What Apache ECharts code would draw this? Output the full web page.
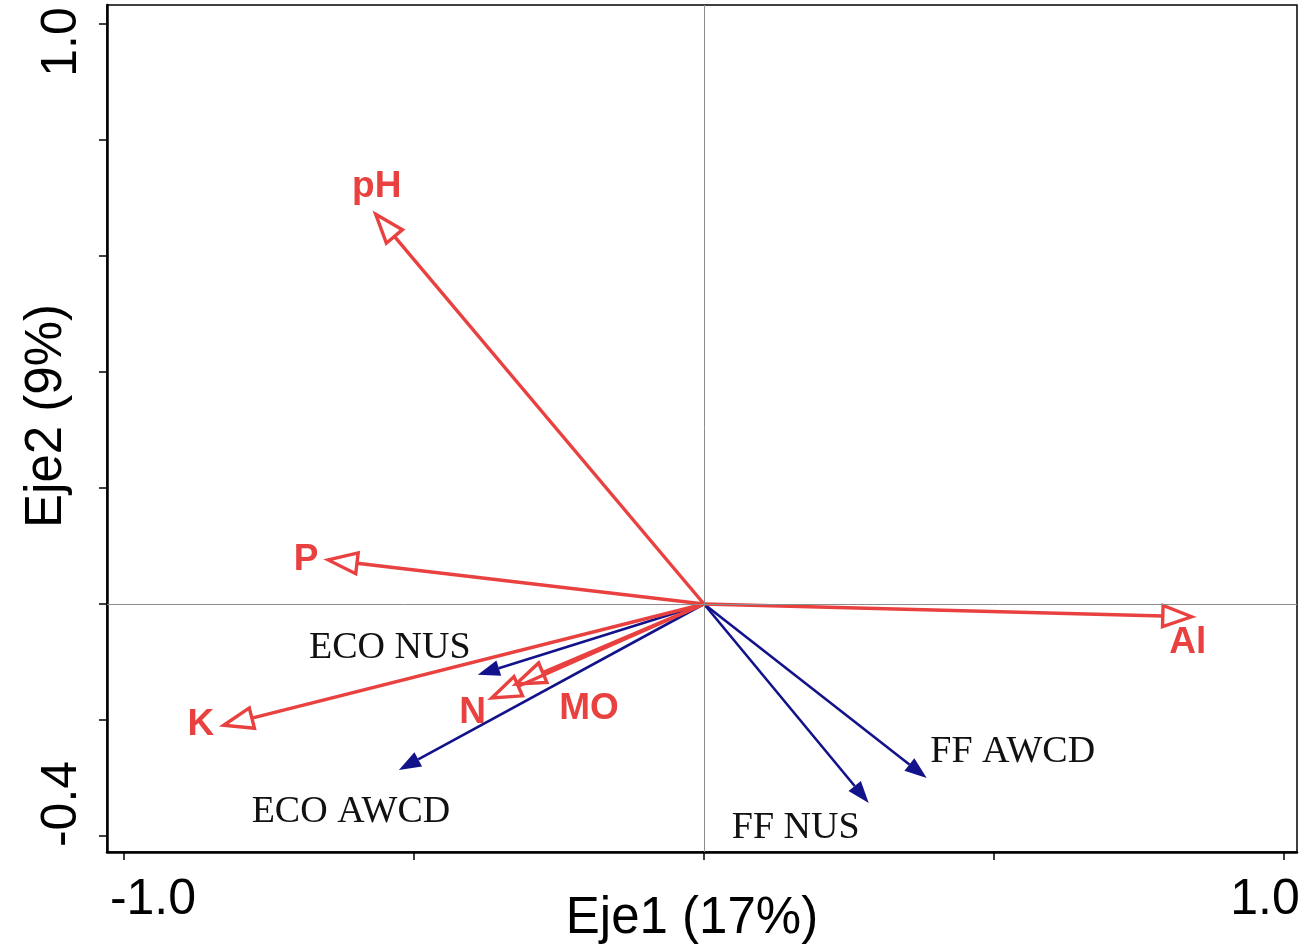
<!DOCTYPE html>
<html>
<head>
<meta charset="utf-8">
<script src="https://cdn.jsdelivr.net/npm/echarts@6/dist/echarts.min.js"></script>
<style>html,body{margin:0;padding:0;background:#fff}#c{width:1303px;height:949px}</style>
</head>
<body>
<div id="c"></div>
<script>
// ---- data ----
const soilNames = ['pH', 'P', 'Al', 'K', 'N', 'MO'];
const soilX = [-0.566, -0.648, 0.841, -0.828, -0.366, -0.324];
const soilY = [0.672, 0.076, -0.022, -0.209, -0.162, -0.138];

const bioNames = ['ECO NUS', 'ECO AWCD', 'FF NUS', 'FF AWCD'];
const bioX = [-0.390, -0.526, 0.284, 0.384];
const bioY = [-0.122, -0.286, -0.343, -0.300];

const xTickValues = [-1, -0.5, 0, 0.5, 1];
const yTickValues = [-0.4, -0.2, 0, 0.2, 0.4, 0.6, 0.8, 1.0];
const xLabelValues = [-1, 1];
const xLabelTexts = ['-1.0', '1.0'];
const yLabelValues = [-0.4, 1.0];
const yLabelTexts = ['-0.4', '1.0'];
const xTitle = 'Eje1 (17%)';
const yTitle = 'Eje2 (9%)';

// ---- style (pixel offsets of labels from arrow tips) ----
const soilLabelOffset = {pH:[1,-27], P:[-22,0], Al:[-4,26], K:[-23,0], N:[-19,15], MO:[73,25]};
const bioLabelOffset = {'ECO NUS':[-88,-27], 'ECO AWCD':[-48,42], 'FF NUS':[-73,25], 'FF AWCD':[86,-26]};
const RED = '#e8413f', BLUE = '#12128a';

function arrowRender(color, lw, hollow, headLen, headW, offsets, font, textColor) {
  return function (params, api) {
    const o = api.coord([0, 0]);
    const p = api.coord([api.value(0), api.value(1)]);
    const name = api.value(2);
    const dx = p[0] - o[0], dy = p[1] - o[1];
    const L = Math.hypot(dx, dy), ux = dx / L, uy = dy / L;
    const b = [p[0] - ux * headLen, p[1] - uy * headLen];
    const l = [b[0] - uy * headW / 2, b[1] + ux * headW / 2];
    const r = [b[0] + uy * headW / 2, b[1] - ux * headW / 2];
    const off = offsets[name] || [0, 0];
    return {
      type: 'group',
      children: [
        {type: 'line', shape: {x1: o[0], y1: o[1], x2: b[0], y2: b[1]}, style: {stroke: color, lineWidth: lw}},
        {type: 'polygon', shape: {points: [p, l, r]},
          style: hollow ? {fill: 'none', stroke: color, lineWidth: lw, lineJoin: 'miter'} : {fill: color}},
        {type: 'text', x: p[0] + off[0], y: p[1] + off[1],
          style: {text: name, font: font, fill: textColor, align: 'center', verticalAlign: 'middle'}}
      ]
    };
  };
}

const chart = echarts.init(document.getElementById('c'), null, {renderer: 'canvas'});
const soilData = soilNames.map((n, i) => [soilX[i], soilY[i], n]);
const bioData = bioNames.map((n, i) => [bioX[i], bioY[i], n]);

chart.setOption({
  backgroundColor: '#fff',
  animation: false,
  grid: {left: 107, right: 6, top: 5, bottom: 97, show: true, borderColor: '#000', borderWidth: 1.5, backgroundColor: '#fff'},
  xAxis: {
    type: 'value', min: -1.0293, max: 1.0224,
    axisLine: {show: true, onZero: false, lineStyle: {color: '#000', width: 2.5}},
    axisTick: {show: true, inside: false, length: 8, customValues: xTickValues, lineStyle: {color: '#000', width: 1.5}},
    axisLabel: {show: false},
    splitLine: {show: false}
  },
  yAxis: {
    type: 'value', min: -0.4276, max: 1.0328,
    axisLine: {show: true, onZero: false, lineStyle: {color: '#000', width: 2.5}},
    axisTick: {show: true, inside: false, length: 8, customValues: yTickValues, lineStyle: {color: '#000', width: 1.5}},
    axisLabel: {show: false},
    splitLine: {show: false}
  },
  series: [
    {
      type: 'line', data: [], z: 1,
      markLine: {silent: true, symbol: 'none', animation: false, label: {show: false},
        lineStyle: {color: '#8c8c8c', width: 1, type: 'solid'},
        data: [{xAxis: 0}, {yAxis: 0}]}
    },
    {
      type: 'custom', z: 3, data: bioData,
      renderItem: arrowRender(BLUE, 2.6, false, 22, 16, bioLabelOffset, '38px "Liberation Serif", "Times New Roman", serif', '#111')
    },
    {
      type: 'custom', z: 4, data: soilData,
      renderItem: arrowRender(RED, 3.4, true, 29, 21, soilLabelOffset, 'bold 37px "Liberation Sans", Arial, sans-serif', RED)
    }
  ]
});

// axis tick labels and titles placed via the library's scale
const g = [];
const xAxisPx = chart.convertToPixel({gridIndex: 0}, [0, -0.4276])[1];
const xLabelShift = [29, -19];
xLabelValues.forEach((v, i) => {
  const px = chart.convertToPixel({xAxisIndex: 0}, v);
  g.push({type: 'text', x: px + xLabelShift[i], y: xAxisPx + 48,
    style: {text: xLabelTexts[i], font: '50px "Liberation Sans", Arial, sans-serif', fill: '#000', align: 'center', verticalAlign: 'middle'}});
});
const yLabelShift = [-32, 18];
yLabelValues.forEach((v, i) => {
  const py = chart.convertToPixel({yAxisIndex: 0}, v);
  g.push({type: 'text', x: 62, y: py + yLabelShift[i], rotation: Math.PI / 2,
    style: {text: yLabelTexts[i], font: '50px "Liberation Sans", Arial, sans-serif', fill: '#000', align: 'center', verticalAlign: 'middle'}});
});
g.push({type: 'text', x: 692, y: xAxisPx + 67,
  style: {text: xTitle, font: '51px "Liberation Sans", Arial, sans-serif', fill: '#000', align: 'center', verticalAlign: 'middle'}});
g.push({type: 'text', x: 47, y: 416, rotation: Math.PI / 2,
  style: {text: yTitle, font: '51px "Liberation Sans", Arial, sans-serif', fill: '#000', align: 'center', verticalAlign: 'middle'}});
chart.setOption({graphic: g});
</script>
</body>
</html>
